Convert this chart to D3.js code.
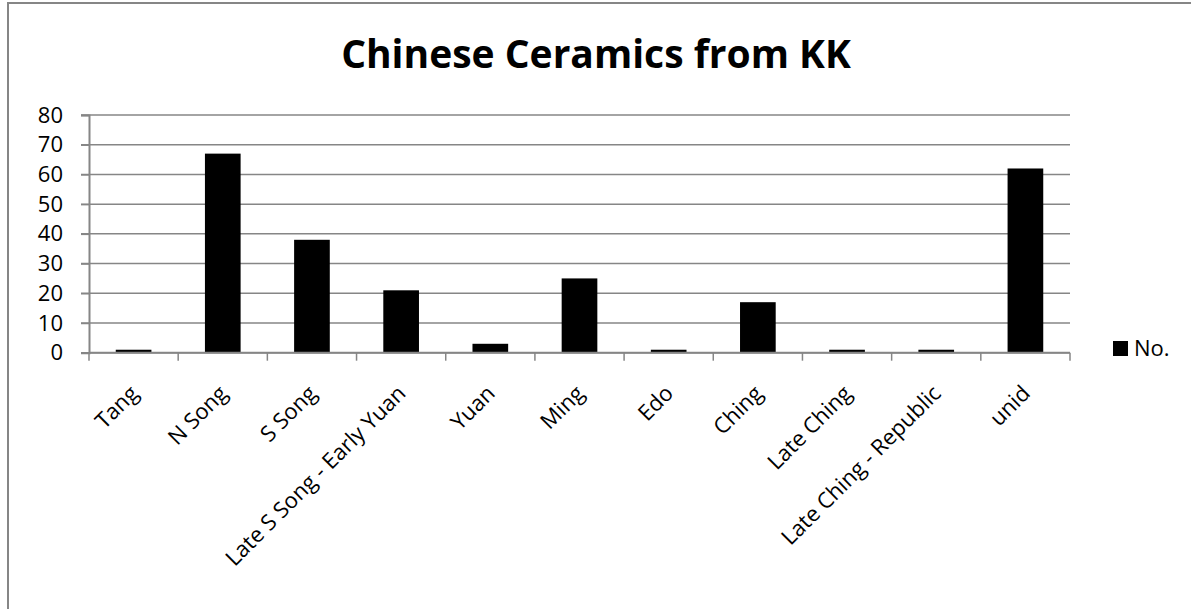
<!DOCTYPE html>
<html>
<head>
<meta charset="utf-8">
<script src="https://cdn.jsdelivr.net/npm/d3@7/dist/d3.min.js"></script>
<style>
  body { margin: 0; background: #fff; }
  text { font-family: "Open Sans", "DejaVu Sans", sans-serif; }
</style>
</head>
<body>
<div id="chart"></div>
<script>
var categories = ["Tang", "N Song", "S Song", "Late S Song - Early Yuan", "Yuan", "Ming",
    "Edo", "Ching", "Late Ching", "Late Ching - Republic", "unid"];
var counts = [1, 67, 38, 21, 3, 25, 1, 17, 1, 1, 62];
var yTicks = [0, 10, 20, 30, 40, 50, 60, 70, 80];
var seriesName = "No.";
var title = "Chinese Ceramics from KK";

var W = 1191, H = 609;
var margin = {top: 115, left: 89, right: 121, bottom: 256};
var width = W - margin.left - margin.right,
    height = 352.7 - margin.top;
var axisGray = "#868686";

var svg = d3.select("#chart").append("svg")
    .attr("width", W)
    .attr("height", H);

// chart frame
svg.append("rect")
    .attr("x", 8).attr("y", 3)
    .attr("width", W + 20).attr("height", H + 20)
    .attr("fill", "none")
    .attr("stroke", axisGray)
    .attr("stroke-width", 2);

svg.append("text")
    .attr("x", 596)
    .attr("y", 68)
    .attr("text-anchor", "middle")
    .style("font-size", "39px")
    .style("font-weight", "bold")
    .text(title);

var x = d3.scaleBand()
    .domain(categories)
    .range([0, width])
    .paddingInner(0.6)
    .paddingOuter(0.3);

var xTick = d3.scaleLinear().domain([0, categories.length]).range([0, width]);

var y = d3.scaleLinear()
    .domain([0, 80])
    .range([height, 0]);

var main = svg.append("g")
    .attr("transform", "translate(" + margin.left + "," + margin.top + ")");

// gridlines
main.append("g")
    .selectAll("line")
    .data(yTicks)
    .enter().append("line")
    .attr("x1", -8)
    .attr("x2", width)
    .attr("y1", function (d) { return y(d); })
    .attr("y2", function (d) { return y(d); })
    .attr("stroke", axisGray)
    .attr("stroke-width", 1.5);

// y axis
var yAxis = main.append("g")
    .call(d3.axisLeft(y).tickValues(yTicks).tickSize(8).tickPadding(18));
yAxis.select(".domain").attr("stroke", axisGray).attr("stroke-width", 2);
yAxis.selectAll(".tick line").attr("stroke", axisGray).attr("stroke-width", 1.5);
yAxis.selectAll(".tick text")
    .attr("fill", "#000")
    .style("font-size", "22px")
    .style("font-family", "'Open Sans', sans-serif");

// bars
main.append("g")
    .selectAll("rect")
    .data(counts)
    .enter().append("rect")
    .attr("x", function (d, i) { return x(categories[i]); })
    .attr("y", function (d) { return y(d); })
    .attr("width", x.bandwidth())
    .attr("height", function (d) { return height - y(d); })
    .attr("fill", "#000");

// x axis
var xg = main.append("g").attr("transform", "translate(0," + height + ")");
xg.append("line")
    .attr("x1", 0).attr("x2", width)
    .attr("stroke", axisGray).attr("stroke-width", 2);
xg.selectAll(".tk")
    .data(d3.range(categories.length + 1))
    .enter().append("line")
    .attr("class", "tk")
    .attr("x1", function (d) { return xTick(d); })
    .attr("x2", function (d) { return xTick(d); })
    .attr("y1", 0).attr("y2", 8)
    .attr("stroke", axisGray).attr("stroke-width", 1.5);

xg.selectAll(".lbl")
    .data(categories)
    .enter().append("text")
    .attr("class", "lbl")
    .attr("text-anchor", "end")
    .attr("transform", function (d) {
        return "translate(" + (x(d) + x.bandwidth() / 2 + 6) + ",42) rotate(-45)";
    })
    .style("font-size", "22px")
    .text(function (d) { return d; });

// legend
var lg = svg.append("g").attr("transform", "translate(1113,341)");
lg.append("rect").attr("width", 15).attr("height", 15).attr("fill", "#000");
lg.append("text")
    .attr("x", 21).attr("y", 15)
    .style("font-size", "22px")
    .text(seriesName);
</script>
</body>
</html>
